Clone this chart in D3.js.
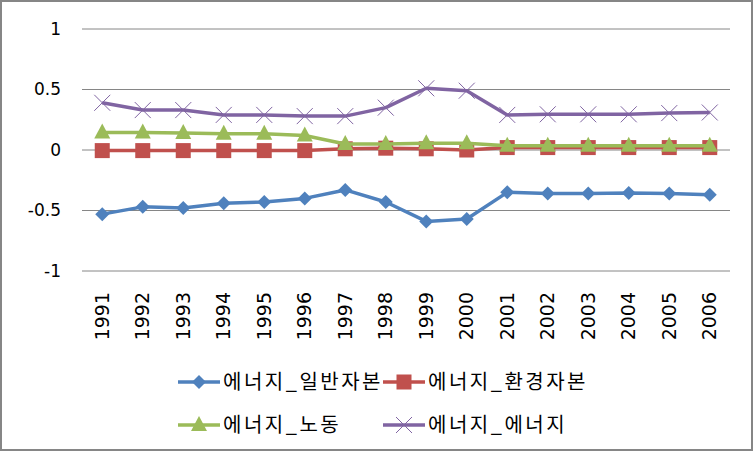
<!DOCTYPE html>
<html><head><meta charset="utf-8">
<script src="https://cdn.jsdelivr.net/npm/d3@7"></script>
<style>body{margin:0;background:#fff}svg{display:block}</style>
</head><body>
<script>
const years = ["1991","1992","1993","1994","1995","1996","1997","1998","1999","2000","2001","2002","2003","2004","2005","2006"];
const seriesNames = ["에너지_일반자본","에너지_환경자본","에너지_노동","에너지_에너지"];
const general = [-0.53,-0.47,-0.48,-0.44,-0.43,-0.40,-0.33,-0.43,-0.59,-0.57,-0.35,-0.36,-0.36,-0.355,-0.36,-0.37];
const envCap = [-0.005,-0.005,-0.005,-0.005,-0.005,-0.005,0.01,0.015,0.01,0.0,0.02,0.02,0.02,0.02,0.02,0.02];
const labor = [0.145,0.145,0.14,0.135,0.135,0.12,0.05,0.05,0.055,0.055,0.035,0.035,0.035,0.035,0.035,0.035];
const energy = [0.39,0.33,0.33,0.29,0.29,0.28,0.28,0.35,0.51,0.49,0.29,0.295,0.295,0.295,0.305,0.31];
const yTicks = [-1,-0.5,0,0.5,1];
const colors = ["#4F81BD","#C0504D","#9BBB59","#8064A2"];
const markers = ["diamond","square","triangle","x"];
const allSeries = [general, envCap, labor, energy];

const W=753,H=451;
const svg=d3.select("body").append("svg").attr("width",W).attr("height",H);
const numFont="'DejaVu Sans', sans-serif";
const krFont="'Noto Sans CJK KR', sans-serif";
svg.append("rect").attr("x",1).attr("y",1).attr("width",W-2).attr("height",H-2)
  .attr("fill","#fff").attr("stroke","#868686").attr("stroke-width",2);

const x=d3.scaleBand().domain(years).range([82,730]);
const y=d3.scaleLinear().domain([-1,1]).range([271,29]);

// grid
svg.append("g").selectAll("line").data(yTicks).join("line")
  .attr("x1",82).attr("x2",730).attr("y1",d=>y(d)).attr("y2",d=>y(d))
  .attr("stroke","#868686").attr("stroke-width",1);

const yAxis=d3.axisLeft(y).tickValues(yTicks).tickSize(0).tickPadding(0).tickFormat(d=>String(d));
const ya=svg.append("g").attr("transform","translate(61,0)").call(yAxis);
ya.select(".domain").remove();
ya.selectAll("text").attr("font-family",numFont).attr("font-size",17).attr("fill","#000");

const xAxis=d3.axisBottom(x).tickSize(0).tickPadding(0);
const xa=svg.append("g").attr("transform","translate(0,292)").call(xAxis);
xa.select(".domain").remove();
xa.selectAll("text").attr("font-family",numFont).attr("font-size",19).attr("fill","#000")
  .attr("transform","rotate(-90)").attr("text-anchor","end").attr("dy","0.35em").attr("x",0).attr("y",0);

const cx=d=>x(d)+x.bandwidth()/2;
const line=d3.line().x((d,i)=>cx(years[i])).y(d=>y(d));

function drawMarker(g,type,color,px,py){
  if(type==="diamond"){
    g.append("path").attr("d",`M${px},${py-7}L${px+7},${py}L${px},${py+7}L${px-7},${py}Z`).attr("fill",color);
  } else if(type==="square"){
    g.append("rect").attr("x",px-7.5).attr("y",py-7.5).attr("width",15).attr("height",15).attr("fill",color);
  } else if(type==="triangle"){
    g.append("path").attr("d",`M${px},${py-9}L${px+8},${py+6}L${px-8},${py+6}Z`).attr("fill",color);
  } else {
    g.append("path").attr("d",`M${px-8},${py-8}L${px+8},${py+8}M${px-8},${py+8}L${px+8},${py-8}`)
      .attr("stroke",color).attr("stroke-width",1).attr("fill","none");
  }
}

allSeries.forEach((vals,si)=>{
  const g=svg.append("g");
  g.append("path").datum(vals).attr("d",line).attr("fill","none")
    .attr("stroke",colors[si]).attr("stroke-width",3.5).attr("stroke-linejoin","round");
  vals.forEach((v,i)=>drawMarker(g,markers[si],colors[si],cx(years[i]),y(v)));
});

// legend
const legPos=[[178,382],[383,382],[178,425],[383,425]];
seriesNames.forEach((n,i)=>{
  const [lx,ly]=legPos[i];
  const g=svg.append("g");
  g.append("line").attr("x1",lx).attr("x2",lx+42).attr("y1",ly).attr("y2",ly)
    .attr("stroke",colors[i]).attr("stroke-width",3.5);
  drawMarker(g,markers[i],colors[i],lx+21,ly);
  g.append("text").attr("x",lx+45).attr("y",ly).attr("dy","0.35em")
    .attr("font-family",krFont).attr("font-size",20).attr("letter-spacing","2.5px")
    .attr("fill","#000").text(n);
});
</script>
</body></html>
